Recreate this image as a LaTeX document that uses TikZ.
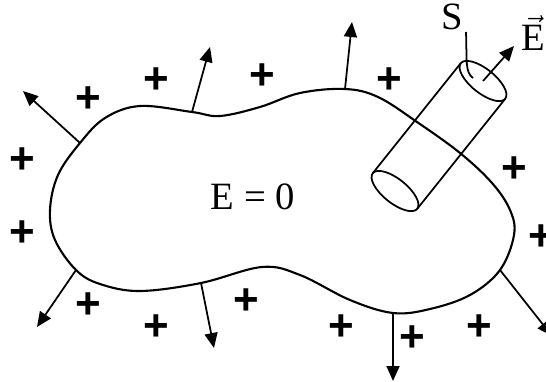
\documentclass[tikz,border=0pt]{standalone}
\usepackage{fontspec}
\setmainfont{Liberation Serif}
\newfontfamily\plusfont{Liberation Sans}
\usepackage{tikz}
\usetikzlibrary{arrows.meta, calc}
\tikzset{
  conductor/.style={draw=black, line width=1.2pt},
  field arrow/.style={
    -{Triangle[length=0.3cm, width=0.26cm]},
    line width=1pt
  },
  charge/.style={
    font=\plusfont\bfseries\fontsize{25}{25}\selectfont,
    inner sep=0pt
  },
  label text/.style={font=\fontsize{22}{24}\selectfont, inner sep=0pt},
  gauss line/.style={line width=1pt}
}

\begin{document}
\begin{tikzpicture}[x=0.02cm, y=-0.02cm]
  \useasboundingbox (0,0) rectangle (546,381);
  \clip (0,0) rectangle (546,381);

  % Conductor
  \draw[conductor] plot[smooth cycle, tension=0.6] coordinates {
    (50,210) (58,175) (80,143) (105,118) (140,106) (192,112) (220,116)
    (260,107) (300,93) (345,89) (378,97) (417,122) (460,153) (492,183)
    (510,210) (514,235) (500,270) (470,295) (430,309) (393,313)
    (350,300) (300,275) (262,267) (201,283) (140,291) (100,284)
    (76,270) (55,240)};
  \node[label text] (inside) at (253,197) {E = 0};

  % Field lines
  \foreach \n/\a/\b/\c/\d in {ul/80/143/23/91, ta/192/112/210/47,
      tb/345/89/352/22, ll/76/270/37/327, ba/201/283/214/348,
      bb/393/313/393/381, br/500/270/552/336} {
    \coordinate (s\n) at (\a,\b);
    \coordinate (e\n) at (\c,\d);
    \draw[field arrow] (s\n) -- (e\n);
  }

  % Charges
  \foreach \x/\y [count=\i] in {88/100, 156/81, 262/77, 389/81, 22/161,
      22/234, 88/306, 156/328, 246/302, 341/328, 412/339, 479/328,
      514/170, 541/238} {
    \node[charge] (q\i) at (\x,\y) {+};
  }

  % Gaussian cylinder
  \coordinate (lo) at (395,191);
  \coordinate (hi) at (483,81);
  \coordinate (la) at ($(lo)!0.57cm!90:(hi)$);
  \coordinate (lb) at ($(lo)!0.57cm!-90:(hi)$);
  \coordinate (ha) at ($(hi)!0.57cm!-90:(lo)$);
  \coordinate (hb) at ($(hi)!0.57cm!90:(lo)$);
  \draw[gauss line, rotate around={51.3:(lo)}] (lo) ellipse [x radius=0.24cm, y radius=0.57cm];
  \draw[gauss line, rotate around={51.3:(hi)}] (hi) ellipse [x radius=0.24cm, y radius=0.57cm];
  \draw[gauss line] (la) -- (ha);
  \draw[gauss line] (lb) -- (hb);

  % Labels
  \node[label text] (S) at (452,17) {S};
  \coordinate (sfoot) at (473,78);
  \draw[gauss line] (466,32) .. controls (467,62) and (465,72) .. (sfoot);
  \coordinate (eout) at (514,46);
  \draw[field arrow] (hi) -- (eout);
  \node[label text] (E) at (533,33) {$\vec{\mathrm{E}}$};
\end{tikzpicture}
\end{document}
